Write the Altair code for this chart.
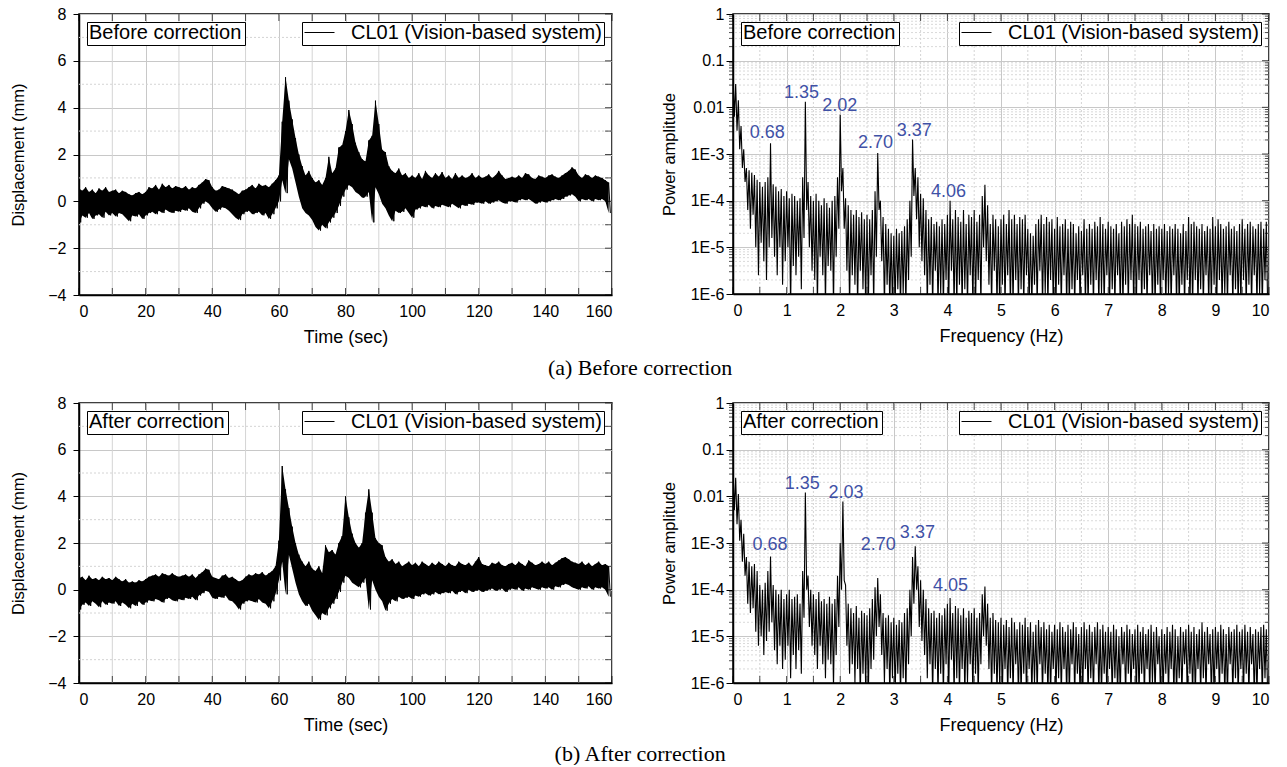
import altair as alt
import pandas as pd

# ---------------- data ----------------
# Displacement envelope per second (t = 0..159): upper and lower excursions (mm)
TL_HI = [0.55, 0.45, 0.60, 0.40, 0.50, 0.35, 0.55, 0.45, 0.60, 0.40,
         0.45, 0.50, 0.35, 0.45, 0.40, 0.30, 0.25, 0.35, 0.40, 0.30,
         0.40, 0.60, 0.55, 0.70, 0.50, 0.75, 0.60, 0.70, 0.55, 0.65,
         0.60, 0.55, 0.65, 0.50, 0.60, 0.55, 0.70, 0.80, 0.95, 0.90,
         0.60, 0.45, 0.50, 0.65, 0.60, 0.55, 0.50, 0.40, 0.30, 0.45,
         0.50, 0.60, 0.70, 0.55, 0.75, 0.65, 0.70, 0.60, 0.75, 0.90,
         1.10, 3.40, 5.30, 4.30, 3.50, 2.70, 2.00, 1.50, 1.10, 1.30,
         1.00, 0.80, 0.90, 0.70, 1.00, 1.90, 1.20, 1.40, 2.30, 2.40,
         3.00, 3.90, 3.30, 2.50, 2.10, 1.80, 1.70, 2.60, 2.80, 4.30,
         3.30, 2.20, 2.10, 1.50, 1.30, 1.20, 1.40, 1.10, 1.20, 1.00,
         1.10, 1.00, 1.20, 0.95, 1.30, 1.10, 1.00, 1.20, 1.05, 1.25,
         1.00, 1.10, 0.95, 1.20, 1.00, 1.10, 1.00, 1.05, 1.20, 1.00,
         1.10, 1.00, 1.05, 1.15, 1.00, 1.10, 1.30, 1.10, 0.95, 1.00,
         1.05, 1.00, 1.10, 1.00, 1.20, 1.15, 1.00, 0.95, 1.10, 1.05,
         1.00, 1.10, 1.15, 1.05, 1.00, 1.10, 1.20, 1.30, 1.45, 1.35,
         1.10, 1.00, 1.15, 1.10, 1.00, 1.10, 1.05, 1.00, 0.90, 0.80]
TL_LO = [-0.90, -0.60, -0.70, -0.50, -0.75, -0.60, -0.55, -0.70, -0.45, -0.60,
         -0.50, -0.65, -0.50, -0.55, -0.70, -0.85, -0.60, -0.65, -0.55, -0.75,
         -0.60, -0.50, -0.45, -0.55, -0.40, -0.50, -0.35, -0.45, -0.50, -0.40,
         -0.45, -0.35, -0.40, -0.30, -0.45, -0.50, -0.30, -0.10, 0.00, -0.10,
         -0.30, -0.45, -0.35, -0.25, -0.30, -0.40, -0.55, -0.70, -0.80, -0.55,
         -0.45, -0.40, -0.55, -0.50, -0.45, -0.60, -0.50, -0.75, -0.55, -0.30,
         0.00, 0.90, 0.35, 1.80, 1.40, 0.80, 0.20, -0.30, -0.50, -0.60,
         -0.80, -1.10, -1.25, -1.00, -1.15, -0.90, -0.70, -0.50, -0.20, 0.20,
         0.50, 0.70, 0.60, 0.40, 0.30, 0.15, 0.20, 0.40, -0.90, 0.60,
         0.30, -0.10, -0.30, -0.60, -0.85, -0.40, -0.50, -0.45, -0.30, -0.50,
         -0.70, -0.35, -0.30, -0.20, -0.25, -0.15, -0.30, -0.20, -0.25, -0.15,
         -0.20, -0.25, -0.10, -0.20, -0.30, -0.15, -0.20, -0.10, -0.15, -0.05,
         -0.05, -0.10, 0.00, -0.10, -0.05, 0.00, 0.05, -0.05, -0.10, 0.00,
         0.00, -0.05, 0.05, 0.10, 0.05, 0.10, 0.00, -0.10, -0.05, 0.00,
         -0.05, 0.00, 0.05, 0.10, 0.05, 0.10, 0.20, 0.25, 0.30, 0.20,
         0.00, 0.10, 0.05, 0.10, 0.00, 0.10, 0.05, 0.10, 0.00, -0.50]
BL_HI = [0.50, 0.55, 0.40, 0.60, 0.45, 0.50, 0.40, 0.55, 0.45, 0.50,
         0.40, 0.55, 0.45, 0.35, 0.45, 0.30, 0.35, 0.30, 0.40, 0.35,
         0.45, 0.55, 0.60, 0.65, 0.55, 0.70, 0.65, 0.60, 0.70, 0.60,
         0.55, 0.60, 0.65, 0.55, 0.65, 0.50, 0.65, 0.75, 0.90, 0.85,
         0.55, 0.50, 0.45, 0.60, 0.65, 0.50, 0.55, 0.45, 0.35, 0.40,
         0.55, 0.65, 0.60, 0.70, 0.65, 0.75, 0.60, 0.70, 0.80, 1.00,
         2.10, 5.30, 4.30, 3.50, 2.70, 2.00, 1.50, 1.20, 1.00, 1.20,
         0.90, 0.80, 1.00, 0.70, 1.90, 1.60, 1.70, 1.50, 2.00, 2.30,
         4.00, 3.10, 2.40, 2.00, 1.80, 2.00, 3.30, 4.30, 3.30, 2.20,
         2.00, 1.90, 1.40, 1.20, 1.30, 1.10, 1.20, 1.00, 1.10, 1.20,
         1.05, 1.15, 1.00, 1.20, 1.10, 1.00, 1.15, 1.05, 1.20, 1.10,
         1.00, 1.15, 1.05, 1.00, 1.20, 1.10, 1.05, 1.15, 1.00, 1.20,
         1.40, 1.10, 1.05, 1.00, 1.15, 1.10, 1.20, 1.05, 1.00, 1.10,
         1.15, 1.05, 1.20, 1.10, 1.00, 1.25, 1.15, 1.05, 1.10, 1.20,
         1.10, 1.20, 1.05, 1.15, 1.25, 1.35, 1.40, 1.30, 1.20, 1.15,
         1.10, 1.20, 1.05, 1.15, 1.00, 1.10, 1.20, 1.05, 1.10, 1.00]
BL_LO = [-0.85, -0.65, -0.55, -0.70, -0.50, -0.60, -0.75, -0.50, -0.65, -0.55,
         -0.60, -0.50, -0.70, -0.55, -0.65, -0.80, -0.60, -0.70, -0.50, -0.65,
         -0.55, -0.45, -0.50, -0.40, -0.45, -0.55, -0.40, -0.35, -0.45, -0.50,
         -0.40, -0.45, -0.35, -0.40, -0.30, -0.45, -0.25, -0.15, -0.05, -0.10,
         -0.35, -0.40, -0.30, -0.35, -0.25, -0.45, -0.50, -0.65, -0.85, -0.60,
         -0.50, -0.45, -0.50, -0.55, -0.40, -0.55, -0.60, -0.80, -0.50, -0.20,
         0.40, 1.20, -0.20, 1.50, 0.90, 0.30, -0.20, -0.50, -0.70, -0.60,
         -0.90, -1.10, -1.30, -1.00, -1.10, -0.80, -0.60, -0.40, -0.10, 0.30,
         0.60, 0.50, 0.30, 0.20, 0.10, 0.30, 0.50, -0.85, 0.40, 0.00,
         -0.30, -0.50, -0.90, -0.60, -0.40, -0.50, -0.30, -0.40, -0.35, -0.30,
         -0.40, -0.25, -0.30, -0.20, -0.15, -0.25, -0.20, -0.10, -0.20, -0.15,
         -0.10, -0.15, -0.05, -0.20, -0.10, -0.05, -0.15, 0.00, -0.10, -0.05,
         0.00, -0.10, -0.05, 0.00, 0.05, -0.05, 0.00, 0.05, -0.10, 0.00,
         0.05, 0.00, 0.10, -0.05, 0.05, 0.00, 0.10, 0.05, 0.00, 0.10,
         0.05, 0.10, 0.00, 0.15, 0.10, 0.20, 0.25, 0.20, 0.10, 0.05,
         0.00, 0.10, 0.05, 0.15, 0.00, 0.10, 0.05, 0.10, 0.00, -0.30]

# Power spectrum envelope per 0.05 Hz bin (f = 0..9.95), as log10(power amplitude)
TR_HI = [-1.30, -1.50, -1.85, -2.40, -2.90, -3.30, -3.35, -3.40, -3.45, -3.55,
         -3.60, -3.70, -3.60, -3.50, -2.77, -3.65, -3.70, -3.80, -3.75, -3.90,
         -3.80, -3.95, -3.85, -3.90, -4.00, -3.95, -3.50, -1.88, -3.60, -3.90,
         -4.00, -3.85, -4.00, -4.10, -3.95, -4.05, -4.15, -4.00, -3.90, -3.50,
         -2.16, -3.30, -3.95, -4.10, -4.20, -4.30, -4.20, -4.35, -4.25, -4.40,
         -4.30, -4.40, -4.20, -3.80, -2.98, -4.00, -4.35, -4.50, -4.60, -4.70,
         -4.75, -4.60, -4.70, -4.65, -4.55, -4.40, -4.00, -2.69, -3.30, -3.50,
         -3.85, -3.95, -4.20, -4.40, -4.35, -4.50, -4.45, -4.55, -4.40, -4.50,
         -4.30, -4.00, -4.40, -4.20, -4.35, -4.45, -4.20, -4.50, -4.30, -4.35,
         -4.20, -4.45, -4.30, -3.90, -3.66, -4.10, -4.50, -4.30, -4.40, -4.55,
         -4.40, -4.30, -4.50, -4.20, -4.40, -4.30, -4.50, -4.35, -4.40, -4.30,
         -4.60, -4.70, -4.75, -4.50, -4.40, -4.30, -4.50, -4.35, -4.45, -4.40,
         -4.60, -4.35, -4.55, -4.50, -4.40, -4.60, -4.45, -4.50, -4.70, -4.55,
         -4.65, -4.40, -4.60, -4.50, -4.60, -4.45, -4.55, -4.35, -4.50, -4.60,
         -4.45, -4.55, -4.60, -4.50, -4.70, -4.45, -4.55, -4.40, -4.50, -4.30,
         -4.50, -4.55, -4.45, -4.60, -4.55, -4.50, -4.65, -4.50, -4.60, -4.55,
         -4.60, -4.50, -4.65, -4.55, -4.60, -4.50, -4.60, -4.70, -4.50, -4.65,
         -4.35, -4.50, -4.45, -4.55, -4.60, -4.50, -4.65, -4.55, -4.60, -4.35,
         -4.55, -4.40, -4.50, -4.60, -4.55, -4.45, -4.60, -4.55, -4.65, -4.50,
         -4.40, -4.60, -4.50, -4.45, -4.55, -4.60, -4.50, -4.45, -4.60, -4.45]
TR_LO = [-2.20, -2.50, -2.90, -3.30, -3.60, -4.20, -4.60, -4.30, -5.00, -5.60,
         -4.90, -5.30, -5.70, -5.00, -4.80, -5.20, -5.60, -5.00, -5.80, -5.30,
         -5.00, -6.30, -5.40, -5.60, -5.20, -5.90, -4.80, -4.20, -5.00, -5.50,
         -5.70, -6.30, -5.20, -5.60, -6.30, -5.40, -5.50, -6.30, -5.20, -4.60,
         -3.80, -4.60, -5.50, -6.30, -5.60, -5.80, -6.30, -5.50, -5.90, -6.30,
         -6.30, -5.60, -6.30, -5.20, -4.20, -5.30, -6.30, -5.80, -6.30, -6.30,
         -6.30, -5.90, -6.30, -6.00, -6.30, -5.70, -5.20, -3.90, -4.40, -5.00,
         -5.30, -5.60, -6.30, -5.80, -6.30, -5.50, -6.30, -6.00, -6.30, -5.70,
         -6.30, -5.50, -6.30, -6.30, -5.80, -6.30, -5.90, -6.30, -5.60, -6.30,
         -6.30, -5.70, -6.30, -5.00, -5.30, -5.80, -6.30, -5.50, -6.30, -6.30,
         -5.80, -6.30, -5.60, -6.30, -6.30, -5.70, -6.30, -5.90, -6.30, -5.60,
         -6.30, -6.30, -5.80, -6.30, -5.50, -6.30, -6.00, -6.30, -5.70, -6.30,
         -6.30, -5.80, -6.30, -5.60, -6.30, -6.30, -5.90, -6.30, -5.70, -6.30,
         -5.60, -6.30, -6.30, -5.80, -6.30, -5.70, -6.30, -6.00, -6.30, -5.60,
         -6.30, -5.90, -6.30, -5.60, -6.30, -6.30, -5.80, -6.30, -5.70, -6.30,
         -6.30, -5.70, -6.30, -5.90, -6.30, -5.60, -6.30, -6.30, -5.80, -6.30,
         -5.70, -6.30, -6.00, -6.30, -5.60, -6.30, -6.30, -5.80, -6.30, -5.70,
         -6.30, -6.30, -5.70, -6.30, -5.90, -6.30, -5.60, -6.30, -6.30, -5.80,
         -6.30, -5.70, -6.30, -6.00, -6.30, -5.60, -6.30, -5.90, -6.30, -6.30,
         -5.70, -6.30, -5.80, -6.30, -5.60, -6.30, -6.00, -6.30, -5.70, -6.30]
BR_HI = [-1.40, -1.60, -1.95, -2.50, -2.80, -3.30, -3.40, -3.50, -3.45, -3.60,
         -3.90, -4.00, -3.85, -3.60, -3.29, -3.90, -4.00, -4.10, -4.00, -4.20,
         -4.10, -4.00, -4.20, -4.15, -4.10, -4.30, -3.60, -1.92, -3.70, -4.00,
         -4.10, -4.20, -4.05, -4.25, -4.20, -4.30, -4.15, -4.30, -4.20, -3.70,
         -3.00, -2.11, -3.90, -4.30, -4.40, -4.50, -4.35, -4.60, -4.45, -4.50,
         -4.55, -4.40, -4.20, -3.95, -3.75, -4.10, -4.50, -4.60, -4.55, -4.70,
         -4.60, -4.75, -4.65, -4.70, -4.50, -4.40, -4.00, -3.30, -3.07, -3.50,
         -3.80, -4.00, -4.20, -4.40, -4.50, -4.45, -4.60, -4.50, -4.55, -4.40,
         -4.30, -4.18, -4.50, -4.35, -4.40, -4.55, -4.40, -4.60, -4.45, -4.50,
         -4.40, -4.60, -4.50, -4.10, -3.93, -4.30, -4.60, -4.50, -4.65, -4.70,
         -4.60, -4.75, -4.65, -4.80, -4.60, -4.70, -4.85, -4.70, -4.75, -4.60,
         -4.80, -4.70, -4.90, -4.75, -4.65, -4.80, -4.70, -4.85, -4.75, -4.90,
         -4.75, -4.85, -4.70, -4.80, -4.90, -4.75, -4.85, -4.70, -4.80, -4.95,
         -4.80, -4.70, -4.85, -4.75, -4.90, -4.80, -4.70, -4.85, -4.75, -4.90,
         -4.80, -4.90, -4.75, -4.85, -5.00, -4.80, -4.90, -4.75, -4.85, -4.95,
         -4.85, -4.75, -4.90, -4.80, -4.95, -4.85, -4.75, -4.90, -4.80, -5.00,
         -4.85, -4.95, -4.80, -4.90, -4.75, -4.85, -5.00, -4.80, -4.90, -4.85,
         -4.75, -4.90, -4.80, -4.95, -4.85, -4.70, -4.90, -4.80, -4.95, -4.85,
         -4.80, -4.90, -4.75, -4.85, -4.95, -4.80, -4.90, -4.85, -4.75, -4.90,
         -4.85, -4.75, -4.90, -4.80, -4.95, -4.85, -4.90, -4.80, -4.75, -4.85]
BR_LO = [-2.30, -2.60, -2.95, -3.40, -3.70, -4.30, -4.50, -4.40, -4.90, -5.20,
         -5.00, -5.40, -5.10, -4.90, -4.70, -5.30, -5.60, -5.20, -5.70, -5.50,
         -5.20, -5.90, -5.40, -5.70, -5.30, -5.80, -4.60, -4.00, -4.80, -5.20,
         -5.40, -5.70, -5.20, -5.60, -5.90, -5.50, -5.60, -6.10, -5.40, -4.80,
         -4.00, -3.80, -5.20, -5.80, -5.60, -6.00, -5.70, -6.30, -5.80, -6.10,
         -6.30, -5.70, -5.50, -5.00, -4.80, -5.40, -6.00, -5.70, -6.30, -5.90,
         -6.30, -5.80, -6.30, -5.90, -6.30, -5.60, -5.00, -4.30, -4.00, -4.80,
         -5.10, -5.40, -5.90, -5.60, -6.30, -5.70, -6.30, -5.80, -6.30, -5.60,
         -6.30, -5.50, -6.30, -5.90, -6.30, -5.70, -6.30, -6.00, -5.60, -6.30,
         -5.80, -6.30, -5.60, -5.00, -5.20, -5.70, -6.30, -5.80, -6.30, -6.00,
         -6.30, -5.70, -6.30, -5.90, -6.30, -5.60, -6.30, -6.30, -5.80, -6.30,
         -5.70, -6.30, -6.00, -6.30, -5.60, -6.30, -5.80, -6.30, -6.30, -5.70,
         -6.30, -5.90, -6.30, -5.70, -6.30, -6.30, -5.60, -6.30, -5.80, -6.30,
         -6.30, -5.70, -6.30, -5.90, -6.30, -5.60, -6.30, -6.30, -5.80, -6.30,
         -5.70, -6.30, -5.90, -6.30, -6.30, -5.60, -6.30, -5.80, -6.30, -5.70,
         -6.30, -6.30, -5.80, -6.30, -5.70, -6.30, -6.00, -6.30, -5.60, -6.30,
         -6.30, -5.80, -6.30, -5.70, -6.30, -6.30, -5.90, -6.30, -5.60, -6.30,
         -5.80, -6.30, -6.30, -5.70, -6.30, -5.90, -6.30, -5.60, -6.30, -6.30,
         -5.70, -6.30, -5.80, -6.30, -6.30, -5.60, -6.30, -5.90, -6.30, -5.70,
         -6.30, -5.80, -6.30, -5.60, -6.30, -6.30, -5.70, -6.30, -5.90, -6.30]

# Peak annotations: label, frequency (Hz), log10 amplitude of the label position
TR_PEAK_LABELS = ["0.68", "1.35", "2.02", "2.70", "3.37", "4.06"]
TR_PEAK_F = [0.64, 1.28, 1.99, 2.66, 3.38, 4.02]
TR_PEAK_LOG = [-2.55, -1.69, -1.98, -2.76, -2.51, -3.81]
BR_PEAK_LABELS = ["0.68", "1.35", "2.03", "2.70", "3.37", "4.05"]
BR_PEAK_F = [0.69, 1.29, 2.11, 2.71, 3.44, 4.06]
BR_PEAK_LOG = [-3.04, -1.74, -1.93, -3.05, -2.79, -3.93]

SERIES = "CL01 (Vision-based system)"
TIME_TICKS = [0, 20, 40, 60, 80, 100, 120, 140, 160]
TIME_MINOR = [10, 30, 50, 70, 90, 110, 130, 150]
DISP_TICKS = [-4, -2, 0, 2, 4, 6, 8]
DISP_MINOR = [-3, -1, 1, 3, 5, 7]
FREQ_TICKS = [0, 1, 2, 3, 4, 5, 6, 7, 8, 9, 10]
FREQ_MINOR = [0.5, 1.5, 2.5, 3.5, 4.5, 5.5, 6.5, 7.5, 8.5, 9.5]
POW_TICKS = [1e-6, 1e-5, 1e-4, 1e-3, 1e-2, 1e-1, 1]
POW_MINOR_MANT = [2, 3, 4, 5, 6, 7, 8, 9]

FONT = "Liberation Sans"
BLUE = "#3F51A6"


def series_legend():
    return alt.Legend(title=None, orient="top-right", offset=8, padding=2,
                      strokeColor="black", fillColor="white",
                      symbolType="stroke", symbolSize=900, symbolStrokeWidth=1,
                      symbolStrokeColor="black", labelOffset=16, labelLimit=600,
                      clipHeight=17, labelFont=FONT, labelFontSize=20,
                      labelColor="black")


def tag_legend(tag):
    return alt.Legend(title=tag, titleOrient="left", titleAnchor="middle",
                      titleBaseline="middle", titleFont=FONT,
                      titleFontSize=20, titleFontWeight="normal",
                      titleColor="black", titlePadding=0, titleLimit=600,
                      orient="top-left", offset=8, padding=2, clipHeight=17,
                      strokeColor="black", fillColor="white",
                      symbolSize=0, symbolOpacity=0, symbolStrokeWidth=0,
                      labelOffset=0, labelFontSize=1, labelExpr="''")


def tick_layer(df, X, Y, orient, size, xoff=0, yoff=0):
    return alt.Chart(df).mark_tick(
        orient=orient, size=size, thickness=1, color="black",
        xOffset=xoff, yOffset=yoff).encode(x=X, y=Y)


def time_panel(hi, lo, tag, h):
    rows = []
    for t, (a, b) in enumerate(zip(hi, lo)):
        rows.append({"x": t, "y": a, "s": SERIES})
        rows.append({"x": t + 0.5, "y": b, "s": SERIES})
    df = pd.DataFrame(rows)
    band = pd.DataFrame({"x": list(range(len(hi))), "hi": hi, "lo": lo})
    xs = alt.Scale(domain=[TIME_TICKS[0], TIME_TICKS[-1]], nice=False)
    ys = alt.Scale(domain=[DISP_TICKS[0], DISP_TICKS[-1]], nice=False)
    xax = alt.Axis(values=TIME_TICKS, title="Time (sec)", ticks=False,
                   labelPadding=8, titlePadding=9, titleFontSize=18, grid=True)
    yax = alt.Axis(values=DISP_TICKS, title="Displacement (mm)", tickSize=6,
                   labelPadding=7, titlePadding=21, titleFontSize=16.5, grid=True)
    X = alt.X("x:Q", scale=xs, axis=xax)
    Y = alt.Y("y:Q", scale=ys, axis=yax)
    gy = alt.Chart(pd.DataFrame({"y": DISP_MINOR})).mark_rule(
        color="#d4d4d4", strokeDash=[2, 2], strokeWidth=1).encode(y=Y)
    gx = alt.Chart(pd.DataFrame({"x": TIME_MINOR})).mark_rule(
        color="#d4d4d4", strokeWidth=1).encode(x=X)
    area = alt.Chart(band).mark_area(color="black", clip=True).encode(
        x=X, y=alt.Y("lo:Q", scale=ys, axis=yax), y2="hi:Q")
    line = alt.Chart(df).mark_line(strokeWidth=1, clip=True).encode(
        x=X, y=Y,
        color=alt.Color("s:N", scale=alt.Scale(range=["black"]),
                        legend=series_legend()))
    xt = TIME_TICKS + TIME_MINOR
    yt = DISP_TICKS + DISP_MINOR
    bottom = tick_layer(pd.DataFrame({"x": xt, "y": [DISP_TICKS[0]] * len(xt)}),
                        X, Y, "vertical", 7, yoff=-3.5)
    top = tick_layer(pd.DataFrame({"x": xt, "y": [DISP_TICKS[-1]] * len(xt)}),
                     X, Y, "vertical", 7, yoff=3.5)
    right = tick_layer(pd.DataFrame({"x": [TIME_TICKS[-1]] * len(yt), "y": yt}),
                       X, Y, "horizontal", 7, xoff=-3.5)
    tagl = alt.Chart(pd.DataFrame({"tag": [tag], "x": [0], "y": [0]})).mark_point(
        opacity=0, size=0).encode(
        x=X, y=Y, shape=alt.Shape("tag:N", legend=tag_legend(tag)))
    return alt.layer(gy, gx, area, line, bottom, top, right, tagl).properties(
        width=533, height=h)


def spec_panel(hi, lo, labels, lf, llog, tag, h):
    rows = []
    for i, (a, b) in enumerate(zip(hi, lo)):
        f = i * 0.05
        rows.append({"x": f, "y": 10 ** a, "s": SERIES})
        rows.append({"x": f + 0.025, "y": 10 ** b, "s": SERIES})
    df = pd.DataFrame(rows)
    ann = pd.DataFrame({"x": lf, "y": [10 ** v for v in llog], "label": labels})
    minor = [m * d for d in POW_TICKS[:-1] for m in POW_MINOR_MANT]
    xs = alt.Scale(domain=[FREQ_TICKS[0], FREQ_TICKS[-1]], nice=False)
    ys = alt.Scale(type="log", domain=[POW_TICKS[0], POW_TICKS[-1]], nice=False)
    xax = alt.Axis(values=FREQ_TICKS, title="Frequency (Hz)", ticks=False,
                   labelPadding=8, titlePadding=9, titleFontSize=18, grid=True)
    yax = alt.Axis(values=POW_TICKS, title="Power amplitude", tickSize=7,
                   labelPadding=2, titlePadding=13, titleFontSize=16.5, grid=True,
                   labelExpr="datum.value >= 0.005 ? '' + datum.value : '1E' + round(log(datum.value) / LN10)")
    X = alt.X("x:Q", scale=xs, axis=xax)
    Y = alt.Y("y:Q", scale=ys, axis=yax)
    gy = alt.Chart(pd.DataFrame({"y": minor})).mark_rule(
        color="#d9d9d9", strokeDash=[2, 2], strokeWidth=1).encode(y=Y)
    gx = alt.Chart(pd.DataFrame({"x": FREQ_MINOR})).mark_rule(
        color="#d4d4d4", strokeDash=[2, 2], strokeWidth=1).encode(x=X)
    line = alt.Chart(df).mark_line(strokeWidth=1.1, clip=True).encode(
        x=X, y=Y,
        color=alt.Color("s:N", scale=alt.Scale(range=["black"]),
                        legend=series_legend()))
    txt = alt.Chart(ann).mark_text(color=BLUE, font=FONT, fontSize=18).encode(
        x=X, y=Y, text="label:N")
    xt = FREQ_TICKS + FREQ_MINOR
    bottom = tick_layer(pd.DataFrame({"x": xt, "y": [POW_TICKS[0]] * len(xt)}),
                        X, Y, "vertical", 7, yoff=-3.5)
    top = tick_layer(pd.DataFrame({"x": xt, "y": [POW_TICKS[-1]] * len(xt)}),
                     X, Y, "vertical", 7, yoff=3.5)
    right = tick_layer(pd.DataFrame({"x": [FREQ_TICKS[-1]] * len(POW_TICKS), "y": POW_TICKS}),
                       X, Y, "horizontal", 7, xoff=-3.5)
    right_minor = tick_layer(pd.DataFrame({"x": [FREQ_TICKS[-1]] * len(minor), "y": minor}),
                             X, Y, "horizontal", 4, xoff=-2)
    left_minor = tick_layer(pd.DataFrame({"x": [FREQ_TICKS[0]] * len(minor), "y": minor}),
                            X, Y, "horizontal", 4, xoff=-2)
    tagl = alt.Chart(pd.DataFrame({"tag": [tag], "x": [5], "y": [1e-3]})).mark_point(
        opacity=0, size=0).encode(
        x=X, y=Y, shape=alt.Shape("tag:N", legend=tag_legend(tag)))
    return alt.layer(gy, gx, line, txt, bottom, top, right, right_minor,
                     left_minor, tagl).properties(width=536, height=h)


def caption(text, offset):
    return alt.TitleParams(text, orient="bottom", anchor="middle",
                           font="Liberation Serif", fontSize=22,
                           fontWeight="normal", color="black", offset=offset)


RES = dict(x="independent", y="independent", color="independent",
           shape="independent")

row_a = alt.hconcat(
    time_panel(TL_HI, TL_LO, "Before correction", 281),
    spec_panel(TR_HI, TR_LO, TR_PEAK_LABELS, TR_PEAK_F, TR_PEAK_LOG,
               "Before correction", 280),
    spacing=46,
).resolve_scale(**RES).properties(title=caption("(a) Before correction", 11))

row_b = alt.hconcat(
    time_panel(BL_HI, BL_LO, "After correction", 280),
    spec_panel(BR_HI, BR_LO, BR_PEAK_LABELS, BR_PEAK_F, BR_PEAK_LOG,
               "After correction", 280),
    spacing=46,
).resolve_scale(**RES).properties(title=caption("(b) After correction", 9))

chart = alt.vconcat(row_a, row_b, spacing=15).resolve_scale(**RES).properties(
    padding={"left": 10, "top": 5, "right": 5, "bottom": 0},
    background="white",
).configure_view(
    stroke="black", strokeWidth=1.5
).configure_axis(
    labelFont=FONT, labelFontSize=16, labelColor="black",
    titleFont=FONT, titleFontWeight="normal", titleColor="black",
    domainColor="black", domainWidth=1.5, tickColor="black", tickWidth=1,
    gridColor="#c8c8c8", gridWidth=1,
)

chart.save("out.html", embed_options={"renderer": "svg", "actions": False})
